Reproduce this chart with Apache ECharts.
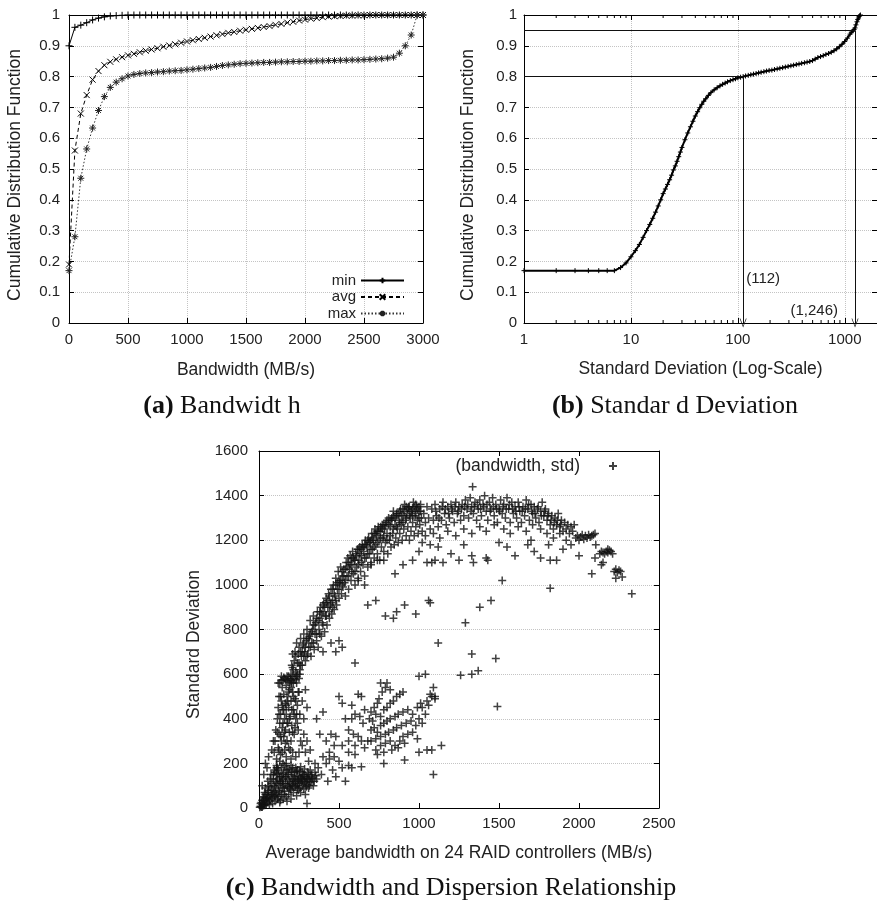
<!DOCTYPE html>
<html>
<head>
<meta charset="utf-8">
<script src="https://cdn.jsdelivr.net/npm/echarts@6/dist/echarts.min.js"></script>
<style>
  html, body { margin: 0; padding: 0; background: #fff; }
  #main { width: 877px; height: 903px; }
</style>
</head>
<body>
<div id="main"></div>
<script>
// ---- (a) bandwidth CDF ----
const bandwidth = [0,50,100,150,200,250,300,350,400,450,500,550,600,650,700,750,800,850,900,950,
  1000,1050,1100,1150,1200,1250,1300,1350,1400,1450,1500,1550,1600,1650,1700,1750,1800,1850,1900,1950,
  2000,2050,2100,2150,2200,2250,2300,2350,2400,2450,2500,2550,2600,2650,2700,2750,2800,2850,2900,2950,3000];
const minCdf = [0.90,0.96,0.967,0.975,0.984,0.99,0.994,0.997,0.998,0.999,
  1,1,1,1,1,1,1,1,1,1, 1,1,1,1,1,1,1,1,1,1, 1,1,1,1,1,1,1,1,1,1, 1,1,1,1,1,1,1,1,1,1, 1,1,1,1,1,1,1,1,1,1, 1];
const avgCdf = [0.19,0.56,0.68,0.74,0.79,0.818,0.837,0.848,0.856,0.863,
  0.869,0.874,0.879,0.884,0.888,0.892,0.897,0.901,0.905,0.91,
  0.914,0.918,0.922,0.926,0.93,0.934,0.938,0.942,0.945,0.949,
  0.952,0.955,0.958,0.961,0.964,0.968,0.971,0.975,0.978,0.982,
  0.985,0.988,0.99,0.993,0.995,0.996,0.997,0.998,0.998,0.999,
  0.999,1,1,1,1,1,1,1,1,1,1];
const maxCdf = [0.17,0.28,0.47,0.565,0.633,0.69,0.735,0.765,0.782,0.793,
  0.802,0.807,0.81,0.812,0.813,0.815,0.816,0.818,0.819,0.82,
  0.822,0.824,0.826,0.828,0.83,0.833,0.836,0.838,0.84,0.842,
  0.843,0.844,0.845,0.846,0.846,0.847,0.848,0.848,0.849,0.849,
  0.85,0.85,0.851,0.851,0.852,0.852,0.853,0.853,0.854,0.854,
  0.855,0.856,0.857,0.858,0.86,0.863,0.876,0.9,0.935,1.0,1.0];

// ---- (b) std deviation CDF (log x) ----
const stdDev = [1,2,3,4,5,6,7,8,9,10,11,12,13,14,15,16,17,18,19,20,21,22,23,24,25,26,27,28,29,30,
  32,34,36,38,40,42,44,46,48,50,53,56,60,64,68,72,76,80,85,90,95,100,106,112,118,125,132,140,148,156,
  165,175,185,196,208,220,233,247,262,278,295,313,332,352,373,395,419,444,470,498,528,560,593,628,666,
  705,747,792,839,889,942,998,1057,1120,1150,1190,1220,1246,1270,1300,1320,1340,1360,1380,1400];
const stdCdf = [0.17,0.17,0.17,0.17,0.17,0.17,0.17,0.18,0.195,0.215,0.235,0.255,0.278,0.30,0.32,0.34,0.36,0.38,0.40,0.42,
  0.435,0.45,0.465,0.48,0.497,0.51,0.525,0.54,0.555,0.57,
  0.595,0.617,0.637,0.655,0.672,0.686,0.699,0.71,0.72,0.728,0.739,0.748,0.757,0.764,0.77,0.775,0.779,0.783,0.787,0.79,
  0.793,0.796,0.798,0.80,0.802,0.804,0.806,0.808,0.81,0.812,
  0.814,0.816,0.818,0.82,0.821,0.823,0.825,0.827,0.829,0.831,0.833,0.835,0.837,0.839,0.841,0.843,0.845,0.847,0.849,0.852,
  0.857,0.862,0.865,0.868,0.872,0.875,0.879,0.884,0.89,0.897,0.905,0.914,0.925,0.938,0.944,0.948,0.953,0.958,
  0.968,0.978,0.985,0.99,0.995,0.998,1.0];
const logMinorTicks = [2,3,4,5,6,7,8,9,20,30,40,50,60,70,80,90,200,300,400,500,600,700,800,900];
const mark80 = [112, 0.8];
const mark95 = [1246, 0.95];

// ---- (c) average bandwidth vs standard deviation ----
const originPts = [[5,3],[10,8],[15,5],[20,15],[25,10],[30,20],[35,12],[40,30],[45,18],[50,40],[55,25],[60,50],[65,15],
  [70,35],[75,60],[80,45],[85,20],[90,70],[95,55],[100,30],[100,90],[105,120],[110,60],[115,40],[120,100],[125,80],
  [130,25],[130,140],[135,110],[140,60],[145,90],[150,40],[150,130],[155,160],[160,75],[165,110],[170,50],[170,140],
  [175,95],[180,170],[185,60],[190,120],[195,85],[200,150],[200,40],[205,105],[210,130],[215,70],[220,160],[225,95],
  [230,120],[235,55],[240,145],[245,80],[250,110],[255,165],[260,70],[265,135],[270,100],[275,150],[280,85],[285,120],
  [290,60],[295,140],[300,105],[305,160],[310,90],[315,130],[320,115],[330,150],[340,100],[350,160],[360,130],[300,20],
  [60,80],[80,110],[40,60],[120,170],[160,190],[110,150],[20,35],[30,45],[70,95],[90,130],[140,180],[190,175],[230,180],
  [260,185],[285,175],[320,170],[40,200],[50,180],[30,150],[20,100],[60,230],[80,260],[90,300],[55,120],[75,150],[95,170],
  [100,160],[110,110],[130,70],[150,110],[170,170],[190,90],[210,180],[230,100],[250,140],[270,160],[290,110],[310,150],
  [330,120],[120,50],[140,140],[160,60],[180,130],[200,80],[220,130],[240,110],[260,130],[280,150],[300,130],[80,80],
  [60,100],[50,60],[70,130],[90,150],[110,180],[40,90],[25,50],[15,25],[35,70],[100,50],[200,190],[240,170],
  [10,20],[20,5],[30,35],[45,45],[55,70],[65,40],[85,60],[95,100],[105,75],[115,130],[125,155],[135,35],[145,120],
  [155,90],[165,140],[175,30],[185,150],[195,110],[205,160],[215,120],[225,140],[235,165],[245,125],[255,90],[265,115],
  [275,120],[285,140],[295,95],[305,130],[315,100],[325,140],[335,135],[345,120],[355,145],[180,100],[210,100],[240,90],
  [270,130],[150,150],[130,120]];
const stripPts = [[95,250],[100,300],[105,350],[110,220],[115,400],[120,270],[120,450],[125,330],[125,500],[130,380],
  [130,560],[135,240],[135,420],[140,480],[140,300],[145,540],[145,360],[150,200],[150,440],[150,575],[155,320],[155,510],
  [160,260],[160,400],[160,580],[165,470],[165,350],[170,550],[170,230],[170,420],[175,300],[175,500],[180,570],[180,380],
  [185,450],[185,270],[190,530],[190,340],[195,580],[195,410],[200,480],[200,300],[205,560],[205,370],[210,520],[210,250],
  [215,440],[220,580],[220,330],[225,490],[230,400],[235,560],[240,460],[245,350],[250,520],[255,420],[260,300],[210,590],
  [175,590],[155,585],[190,565],[140,590],[230,575],[250,580],[110,190],[130,210],[170,200],[200,220],[230,230],[250,250],
  [270,280],[280,330],[290,250],[300,300],[310,210],[320,260],[280,400],[300,450],[270,480],[290,530],
  [115,180],[125,260],[135,320],[145,250],[155,440],[165,290],[175,380],[185,520],[195,260],[205,440],[215,500],[225,360],
  [235,420],[245,520],[135,500],[145,460],[125,420],[115,340],[160,340],[180,480],[200,540],[220,420],[240,380],[150,380],
  [170,460],[190,400],[210,340],[230,480],[120,560],[185,590],
  [140,570],[165,575],[200,570],[215,560],[235,590],[255,600]];
const arcPts = [[200,600],[205,640],[210,690],[215,620],[220,660],[225,700],[230,610],[235,740],[240,650],[245,690],
  [250,720],[255,620],[260,760],[265,680],[270,640],[275,730],[280,780],[285,700],
  [290,660],[295,750],[300,800],[305,690],[310,720],[315,770],[320,840],[325,680],[330,740],[335,800],[340,860],[345,710],
  [350,780],[355,830],[360,750],[365,880],
  [370,720],[375,800],[380,850],[385,900],[390,770],[395,830],[400,880],[405,920],[410,790],[415,860],[420,940],[425,820],
  [430,900],[435,960],[440,850],[445,910],
  [450,980],[455,870],[460,930],[465,1000],[470,890],[475,950],[480,1030],[485,910],[490,980],[495,1060],[500,940],
  [505,1010],[510,1080],[515,960],[520,1040],[525,990],
  [530,1070],[535,1010],[540,950],[545,1100],[550,1040],[555,1120],[560,980],[565,1070],[570,1130],[575,1020],[580,1090],
  [585,1150],[590,1050],[595,1110],
  [600,1000],[605,1140],[610,1080],[615,1160],[620,1030],[625,1110],[630,1170],[635,1060],[640,1130],[645,1180],[650,1090],
  [655,1150],[660,1040],[665,1200],[670,1120],[675,1170],
  [680,1080],[685,1210],[690,1140],[695,1190],[700,1100],[705,1230],[710,1160],[715,1200],[720,1120],[725,1250],[730,1180],
  [735,1220],[740,1140],[745,1260],[750,1200],
  [755,1110],[760,1240],[765,1170],[770,1270],[775,1210],[780,1150],[785,1250],[790,1190],[795,1280],[800,1230],[805,1140],
  [810,1300],[815,1200],[820,1260],[825,1170],[830,1290],[835,1230],[840,1330],
  [845,1180],[850,1270],[855,1210],[860,1310],[865,1250],[870,1190],[875,1290],[880,1230],[885,1340],[890,1270],[895,1200],
  [900,1310],[905,1250],[910,1360],[915,1290],[920,1220],[925,1320],
  [930,1260],[935,1350],[940,1200],[945,1300],[950,1240],[955,1330],[960,1280],[965,1370],[970,1220],[975,1310],[980,1260],
  [985,1350],[990,1290],[995,1230],[1000,1330],[1005,1270],[1010,1360],[1015,1300],
  [210,630],[230,680],[250,650],[270,700],[290,720],[310,760],[330,790],[350,820],[370,840],[390,870],[410,900],[430,930],
  [450,920],[470,960],[490,1010],[510,1020],[530,1040],[550,1080],[570,1090],[590,1120],[610,1130],[630,1140],[650,1170],
  [670,1180],[690,1190],[710,1210],[730,1230],[750,1240],[770,1250],[790,1270],[810,1270],[830,1300],[850,1300],[870,1320],
  [890,1310],[910,1330],[930,1340],[950,1330],[970,1350],[990,1340],[1010,1330],
  [260,700],[280,740],[300,760],[320,780],[340,820],[360,850],[380,880],[400,910],[420,920],[440,950],[460,980],[480,1000],
  [500,1020],[520,1060],[540,1070],[560,1100],[580,1120],[600,1110],[620,1160],[640,1160],[660,1180],[680,1200],[700,1200],
  [720,1230],[740,1240],[760,1260],[780,1270],[800,1290],[820,1290],[840,1310],[860,1320],[880,1330],[900,1340],[920,1350],
  [940,1350],[960,1340],[980,1360],[1000,1350],
  [240,600],[260,640],[280,680],[300,680],[320,720],[340,740],[360,780],[380,780],[400,820],[420,860],[440,880],[460,900],
  [480,930],[500,980],[520,1000],[540,1020],[560,1040],[580,1060],[600,1060],[620,1090],[640,1100],[660,1120],[680,1140],
  [700,1160],[720,1170],[740,1190],[760,1210],[780,1220],[800,1200],[820,1220],[840,1250],[860,1260],[880,1280],[900,1280],
  [920,1300],[940,1310],[960,1310],[980,1320],[1000,1300]];
const topPts = [[1020,1240],[1030,1320],[1040,1280],[1050,1350],[1060,1300],[1070,1250],[1080,1340],[1090,1290],[1100,1360],
  [1110,1310],[1120,1260],[1130,1340],[1140,1290],[1150,1370],[1160,1320],[1170,1270],[1180,1350],[1190,1300],[1200,1360],
  [1210,1330],[1220,1280],[1230,1370],[1240,1320],[1250,1350],[1260,1290],[1270,1360],[1280,1310],[1290,1380],[1300,1340],
  [1310,1300],[1320,1390],[1330,1350],[1335,1440],[1340,1320],[1350,1370],[1360,1290],[1370,1340],[1380,1380],[1390,1310],
  [1400,1360],[1410,1400],[1420,1330],[1430,1290],[1440,1370],[1450,1340],[1460,1390],[1470,1310],[1480,1360],[1490,1280],
  [1500,1340],[1510,1380],[1520,1320],[1530,1360],[1540,1300],[1550,1390],[1560,1340],[1570,1280],[1580,1370],[1590,1320],
  [1600,1350],[1610,1300],[1620,1370],[1630,1330],[1640,1280],[1650,1350],[1660,1310],[1670,1380],[1680,1340],[1690,1290],
  [1700,1360],[1710,1320],[1720,1350],[1730,1300],[1740,1340],[1750,1280],[1760,1330],[1770,1370],[1780,1310],[1790,1340],
  [1800,1290],[1810,1320],[1820,1270],[1830,1310],[1840,1250],[1850,1300],[1860,1270],[1870,1320],[1880,1260],[1890,1290],
  [1900,1240],[1910,1280],[1920,1250],[1930,1270],[1940,1230],[1950,1260],[1960,1240],[1970,1270],
  [1105,1330],[1125,1300],[1145,1350],[1165,1340],[1185,1320],[1205,1340],[1225,1350],[1245,1330],[1265,1340],[1285,1350],
  [1305,1360],[1325,1330],[1345,1350],[1365,1360],[1385,1340],[1405,1350],[1425,1360],[1445,1330],[1465,1350],[1485,1340],
  [1505,1330],[1525,1350],[1545,1340],[1565,1360],[1585,1340],[1605,1330],[1625,1350],[1645,1330],[1665,1340],[1685,1360],
  [1705,1330],[1725,1320],[1745,1350],[1765,1310],[1785,1330],[1805,1310],[1825,1290],[1845,1280],[1865,1290],[1885,1270],
  [1040,1220],[1090,1230],[1130,1210],[1180,1240],[1230,1220],[1280,1250],[1330,1230],[1380,1260],[1420,1240],[1470,1270],
  [1530,1250],[1570,1230],[1620,1260],[1670,1240],[1710,1270],[1760,1250],[1800,1230],[1840,1210],[1880,1230],[1920,1200]];
const tailPts = [[1980,1210],[1990,1220],[2000,1200],[2010,1215],[2020,1225],[2030,1205],[2040,1220],[2050,1210],[2060,1225],
  [2070,1215],[2080,1220],[2090,1225],[2100,1230],[2105,1180],[2130,1140],[2140,1150],[2150,1145],[2160,1140],[2170,1150],
  [2180,1145],[2190,1155],[2200,1150],[2210,1140],[2150,1100],[2140,1090],[2220,1060],[2230,1070],[2240,1055],[2250,1065],
  [2260,1060],[2270,1035],[2230,1030],[2330,960],[2080,1050],[2100,1120],[2180,1160]];
const sparsePts = [[1020,1190],[1070,1180],[1100,1110],[1120,1170],[1150,1100],[1200,1140],[1250,1110],[1280,1180],
  [1330,1130],[1340,1100],[1420,1120],[1430,1110],[1500,1190],[1550,1170],[1600,1130],[1680,1180],[1720,1150],[1760,1120],
  [1820,1110],[1860,1110],[1900,1160],[2000,1130],[1950,1180],[1700,1200],[1810,1180],
  [620,1020],[660,1000],[700,1090],[740,1110],[780,1110],[850,1050],[900,1090],[960,1110],[1000,1150],[1050,1100],[1080,1100],
  [400,700],[450,740],[480,700],[500,750],[520,720],[600,650],[680,910],[730,930],[790,860],[840,850],[860,880],[910,910],
  [980,870],[1060,930],[1070,920],[1120,740],[1290,830],[1330,690],[1330,600],[1380,900],[1450,930],[1480,670],[1260,595],
  [1370,615],[1490,455],[1520,1020],[1820,985],[1040,600],[1000,590],[1100,500],[1090,540],[1090,150],[1140,280],
  [1080,260],[1050,260],[1000,250]];
const lowPts = [[350,200],[370,180],[390,150],[400,230],[420,200],[430,120],[440,250],[460,170],[470,230],[480,140],
  [500,210],[520,180],[540,120],[560,190],[580,180],[640,185],[780,200],[910,215],[420,300],[380,330],[360,400],[400,430],
  [450,330],[480,320],[500,500],[520,470],[540,400],[560,350],[580,460],[600,420],[620,510],[640,500],[620,320],[650,380],
  [700,430],[720,450],[740,470],[750,490],[770,520],[790,540],[760,560],[800,560],[820,530],
  [690,400],[710,390],[730,420],[760,410],[780,440],[800,450],[820,470],[840,480],[860,500],[880,510],[900,520],
  [700,350],[720,360],[740,340],[760,370],[780,380],[800,390],[820,400],[850,410],[870,420],[900,430],[930,440],[960,420],
  [990,450],[1010,470],
  [700,300],[730,310],[760,320],[790,330],[810,340],[840,350],[860,360],[890,370],[920,380],[950,390],[980,370],[1000,400],
  [1020,380],
  [730,260],[760,280],[790,290],[820,300],[850,280],[880,300],[900,320],[930,330],[960,340],[990,310],
  [740,240],[780,250],[830,260],[870,270],[910,290],
  [560,300],[590,330],[600,280],[630,410],[660,440],[680,300],[660,270],[580,400],[520,280],[470,280],[440,220],[600,240],
  [640,300],[560,250],
  [1020,450],[1040,420],[1050,480],[1080,500],[1100,490],[1070,510],[1060,460]];

const SANS = 'Liberation Sans';
const SERIF = 'Liberation Serif';
const PLUS = 'path://M0,5L10,5M5,0L5,10';
const CROSS = 'path://M0,0L10,10M10,0L0,10';
const STAR = 'path://M5,0L5,10M0,5L10,5M1.5,1.5L8.5,8.5M8.5,1.5L1.5,8.5';
const CHEVRON = 'path://M5,0L10,10L9,10L5,2L1,10L0,10Z';

const chart = echarts.init(document.getElementById('main'), null, {renderer: 'canvas'});

const tickLabel = {color: '#222', fontFamily: SANS, fontSize: 15};
const nameText = {color: '#222', fontFamily: SANS, fontSize: 17.5};
const dotted = {show: true, lineStyle: {color: '#c4c4c4', type: 'dotted', width: 1}};
const plain = v => String(Math.round(v));

function axis(gridIndex, position, extra) {
  return Object.assign({
    gridIndex: gridIndex,
    type: 'value',
    position: position,
    axisLine: {show: true, onZero: false, lineStyle: {color: '#000', width: 1}},
    axisTick: {show: true, inside: true, length: 5, lineStyle: {color: '#000'}},
    axisLabel: Object.assign({show: true}, tickLabel),
    splitLine: {show: false}
  }, extra);
}
function mirror(gridIndex, position, extra) {
  return axis(gridIndex, position, Object.assign({axisLabel: {show: false}}, extra));
}

const cdfAxis = {min: 0, max: 1, interval: 0.1};

const option = {
  animation: false,
  backgroundColor: '#fff',
  grid: [
    {left: 69, top: 15, width: 354, height: 308},
    {left: 524, top: 15, width: 355.5, height: 308},
    {left: 259, top: 451, width: 400, height: 357}
  ],
  xAxis: [
    axis(0, 'bottom', {min: 0, max: 3000, interval: 500, splitLine: dotted,
      axisLabel: Object.assign({margin: 9, formatter: plain}, tickLabel),
      name: 'Bandwidth (MB/s)', nameLocation: 'middle', nameGap: 38, nameTextStyle: nameText}),
    mirror(0, 'top', {min: 0, max: 3000, interval: 500}),
    axis(1, 'bottom', {type: 'log', logBase: 10, min: 1, max: 2000, splitLine: dotted,
      axisLabel: Object.assign({margin: 9, showMaxLabel: false, formatter: plain}, tickLabel),
      name: 'Standard Deviation (Log-Scale)', nameLocation: 'middle', nameGap: 37, nameTextStyle: nameText}),
    mirror(1, 'top', {type: 'log', logBase: 10, min: 1, max: 2000}),
    axis(2, 'bottom', {min: 0, max: 2500, interval: 500,
      axisLabel: Object.assign({margin: 8, formatter: plain}, tickLabel),
      name: 'Average bandwidth on 24 RAID controllers (MB/s)', nameLocation: 'middle', nameGap: 36,
      nameTextStyle: nameText}),
    mirror(2, 'top', {min: 0, max: 2500, interval: 500})
  ],
  yAxis: [
    axis(0, 'left', Object.assign({splitLine: dotted, axisLabel: Object.assign({margin: 9}, tickLabel),
      name: 'Cumulative Distribution Function', nameLocation: 'middle', nameGap: 45,
      nameTextStyle: Object.assign({padding: [0, 12, 0, 0]}, nameText)}, cdfAxis)),
    mirror(0, 'right', cdfAxis),
    axis(1, 'left', Object.assign({splitLine: dotted, axisLabel: Object.assign({margin: 7}, tickLabel),
      name: 'Cumulative Distribution Function', nameLocation: 'middle', nameGap: 47,
      nameTextStyle: Object.assign({padding: [0, 12, 0, 0]}, nameText)}, cdfAxis)),
    mirror(1, 'right', cdfAxis),
    axis(2, 'left', {min: 0, max: 1600, interval: 200, splitLine: dotted,
      axisLabel: Object.assign({margin: 11, formatter: plain}, tickLabel),
      name: 'Standard Deviation', nameLocation: 'middle', nameGap: 56,
      nameTextStyle: Object.assign({padding: [0, 30, 0, 0]}, nameText)}),
    mirror(2, 'right', {min: 0, max: 1600, interval: 200})
  ],
  legend: [
    {
      data: ['min', 'avg', 'max'], orient: 'vertical', align: 'right',
      right: 472, top: 273, padding: 0, itemGap: 1.5, itemWidth: 43, itemHeight: 7,
      textStyle: {color: '#222', fontFamily: SANS, fontSize: 15}, selectedMode: false
    },
    {
      data: ['(bandwidth, std)'], orient: 'vertical', align: 'right',
      right: 259, top: 457, padding: 0, itemWidth: 8, itemHeight: 8,
      textStyle: {color: '#222', fontFamily: SANS, fontSize: 17.5, padding: [0, 24, 0, 0]}, selectedMode: false
    }
  ],
  series: [
    {
      name: 'min', type: 'line', xAxisIndex: 0, yAxisIndex: 0,
      data: bandwidth.map((b, i) => [b, minCdf[i]]),
      symbol: PLUS, symbolSize: 7,
      lineStyle: {color: '#000', width: 1},
      itemStyle: {color: '#000', borderColor: '#000', borderWidth: 1}
    },
    {
      name: 'avg', type: 'line', xAxisIndex: 0, yAxisIndex: 0,
      data: bandwidth.map((b, i) => [b, avgCdf[i]]),
      symbol: CROSS, symbolSize: 6,
      lineStyle: {color: '#000', width: 1, type: [4, 3]},
      itemStyle: {color: '#000', borderColor: '#000', borderWidth: 1}
    },
    {
      name: 'max', type: 'line', xAxisIndex: 0, yAxisIndex: 0,
      data: bandwidth.map((b, i) => [b, maxCdf[i]]),
      symbol: STAR, symbolSize: 7,
      lineStyle: {color: '#333', width: 1, type: [1.5, 2]},
      itemStyle: {color: '#000', borderColor: '#222', borderWidth: 1}
    },
    {
      name: 'std', type: 'line', xAxisIndex: 2, yAxisIndex: 2,
      data: stdDev.map((s, i) => [s, stdCdf[i]]),
      symbol: PLUS, symbolSize: 5,
      lineStyle: {color: '#000', width: 2},
      itemStyle: {color: '#000', borderColor: '#000', borderWidth: 1},
      markLine: {
        silent: true, animation: false,
        label: {show: false},
        lineStyle: {color: '#111', width: 1, type: 'solid'},
        symbolSize: [7, 9],
        data: [
          [{coord: [1, mark95[1]], symbol: 'none'}, {coord: mark95, symbol: 'none'}],
          [{coord: [1, mark80[1]], symbol: 'none'}, {coord: mark80, symbol: 'none'}],
          [{coord: mark80, symbol: 'none'}, {coord: [mark80[0], 0], symbol: CHEVRON}],
          [{coord: mark95, symbol: 'none'}, {coord: [mark95[0], 0], symbol: CHEVRON}]
        ]
      },
      markPoint: {
        silent: true, symbol: 'circle', symbolSize: 0.1,
        itemStyle: {color: 'rgba(0,0,0,0)'},
        label: {show: true, color: '#222', fontFamily: SANS, fontSize: 15},
        data: [
          {coord: [mark80[0], 0.144], label: {position: 'right', distance: 3, formatter: '(112)'}},
          {coord: [mark95[0], 0.041], label: {position: 'left', distance: 17, formatter: '(1,246)'}}
        ]
      }
    },
    {
      name: 'minorTicks', type: 'custom', xAxisIndex: 2, yAxisIndex: 2,
      silent: true, clip: false,
      data: logMinorTicks.map(v => [v, 0]),
      renderItem: function (params, api) {
        const b = api.coord([api.value(0), 0]);
        const t = api.coord([api.value(0), 1]);
        const st = {stroke: '#000', lineWidth: 1};
        return {
          type: 'group',
          children: [
            {type: 'line', shape: {x1: b[0], y1: b[1], x2: b[0], y2: b[1] - 3}, style: st},
            {type: 'line', shape: {x1: t[0], y1: t[1], x2: t[0], y2: t[1] + 3}, style: st}
          ]
        };
      }
    },
    {
      name: '(bandwidth, std)', type: 'scatter', xAxisIndex: 4, yAxisIndex: 4,
      data: originPts.concat(stripPts, arcPts, topPts, tailPts, sparsePts, lowPts),
      symbol: PLUS, symbolSize: 8,
      itemStyle: {color: '#000', borderColor: '#111', borderWidth: 1.5}
    }
  ],
  graphic: [
    {type: 'text', x: 222, y: 406, silent: true,
      style: {text: '{b|(a)} Bandwidt h', fontFamily: SERIF, fontSize: 26, fill: '#111',
        align: 'center', verticalAlign: 'middle',
        rich: {b: {fontWeight: 'bold', fontFamily: SERIF, fontSize: 26}}}},
    {type: 'text', x: 675, y: 406, silent: true,
      style: {text: '{b|(b)} Standar d Deviation', fontFamily: SERIF, fontSize: 26, fill: '#111',
        align: 'center', verticalAlign: 'middle',
        rich: {b: {fontWeight: 'bold', fontFamily: SERIF, fontSize: 26}}}},
    {type: 'text', x: 451, y: 888, silent: true,
      style: {text: '{b|(c)} Bandwidth and Dispersion Relationship', fontFamily: SERIF, fontSize: 26, fill: '#111',
        align: 'center', verticalAlign: 'middle',
        rich: {b: {fontWeight: 'bold', fontFamily: SERIF, fontSize: 26}}}}
  ]
};

chart.setOption(option);

window.addEventListener('resize', function () {
  chart.resize();
});
</script>
</body>
</html>
